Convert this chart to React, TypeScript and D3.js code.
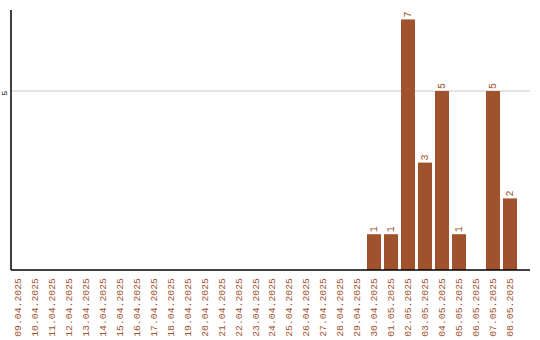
import React from "react";
import * as d3 from "d3";

const categories = [
  "09.04.2025", "10.04.2025", "11.04.2025", "12.04.2025", "13.04.2025", "14.04.2025",
  "15.04.2025", "16.04.2025", "17.04.2025", "18.04.2025", "19.04.2025", "20.04.2025",
  "21.04.2025", "22.04.2025", "23.04.2025", "24.04.2025", "25.04.2025", "26.04.2025",
  "27.04.2025", "28.04.2025", "29.04.2025", "30.04.2025", "01.05.2025", "02.05.2025",
  "03.05.2025", "04.05.2025", "05.05.2025", "06.05.2025", "07.05.2025", "08.05.2025",
];
const values = [
  0, 0, 0, 0, 0, 0, 0, 0, 0, 0, 0, 0, 0, 0, 0, 0, 0, 0, 0, 0, 0,
  1, 1, 7, 3, 5, 1, 0, 5, 2,
];
const yTicks = [5];

const W = 540;
const H = 340;
const left = 11;
const right = 530;
const top = 10;
const bottom = 270;
const color = "#A0522D";

export default function App() {
  const x = d3
    .scaleBand<string>()
    .domain(categories)
    .range([10, 517])
    .paddingInner(0.176)
    .paddingOuter(0);
  const y = d3.scaleLinear().domain([0, 7.263]).range([bottom, top]);
  const mono = "'Liberation Mono', 'DejaVu Sans Mono', monospace";

  return (
    <svg
      width={W}
      height={H}
      style={{ position: "absolute", left: 0, top: 0, background: "#fff" }}
    >
      {yTicks.map((t) => (
        <g key={t}>
          <line x1={left} x2={right} y1={y(t)} y2={y(t)} stroke="#c8c8c8" strokeWidth={1} />
          <text
            transform={`translate(7,${y(t) + 2}) rotate(-90)`}
            textAnchor="middle"
            fontFamily={mono}
            fontSize={8}
            fill="#000"
          >
            {t}
          </text>
        </g>
      ))}
      {categories.map((c, i) =>
        values[i] > 0 ? (
          <g key={c}>
            <rect
              x={x(c)}
              y={y(values[i])}
              width={x.bandwidth()}
              height={y(0) - y(values[i])}
              fill={color}
            />
            <text
              transform={`translate(${(x(c) as number) + x.bandwidth() / 2 + 3.5},${y(values[i]) - 2}) rotate(-90)`}
              textAnchor="start"
              fontFamily={mono}
              fontSize={10}
              fill={color}
            >
              {values[i]}
            </text>
          </g>
        ) : null
      )}
      <line x1={left} x2={left} y1={top} y2={bottom} stroke="#000" strokeWidth={1.5} />
      <line x1={left} x2={right} y1={bottom} y2={bottom} stroke="#000" strokeWidth={1.5} />
      {categories.map((c) => (
        <text
          key={"l" + c}
          transform={`translate(${(x(c) as number) + x.bandwidth() / 2 + 3.5},${bottom + 8}) rotate(-90)`}
          textAnchor="end"
          fontFamily={mono}
          fontSize={9.8}
          fill={color}
        >
          {c}
        </text>
      ))}
    </svg>
  );
}
